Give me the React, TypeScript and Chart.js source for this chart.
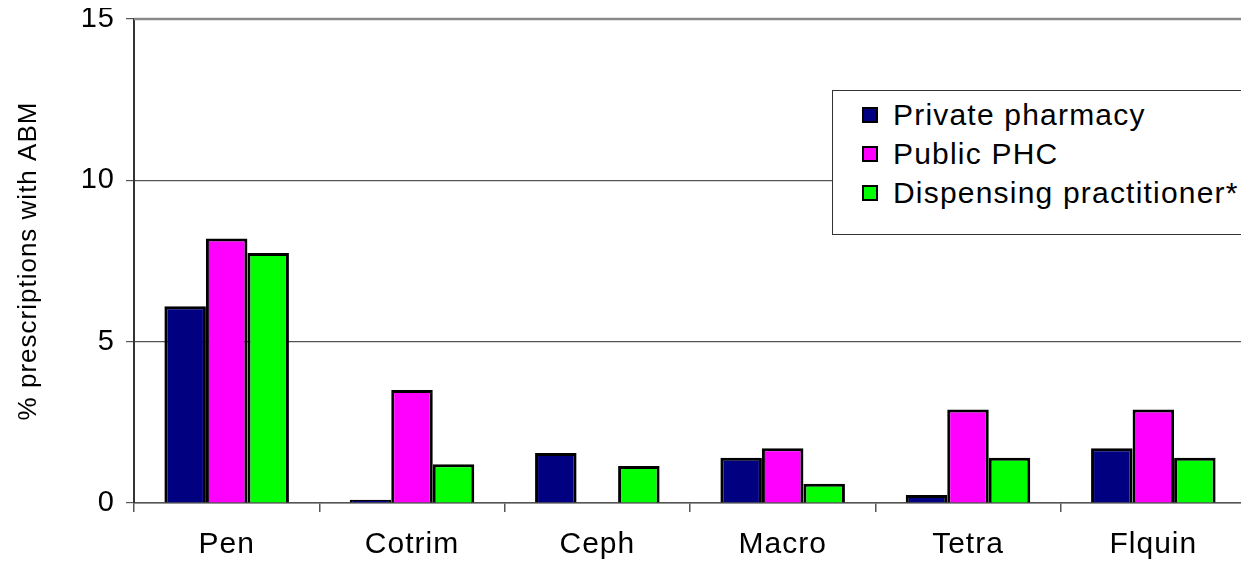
import React, { useEffect, useRef } from "react";
import { Chart, registerables } from "chart.js";

Chart.register(...registerables);

const categories = ["Pen", "Cotrim", "Ceph", "Macro", "Tetra", "Flquin"];
const privatePharmacy = [6.1, 0.1, 1.55, 1.4, 0.25, 1.7];
const publicPHC = [8.2, 3.5, 0, 1.7, 2.9, 2.9];
const dispensingPractitioner = [7.75, 1.2, 1.15, 0.6, 1.4, 1.4];
const seriesLabels = ["Private pharmacy", "Public PHC", "Dispensing practitioner*"];
const seriesColors = ["#000080", "#FF00FF", "#00FF00"];
const yMin = 0;
const yMax = 15;
const yStep = 5;
const yTitle = "% prescriptions with ABM";

const FONT = "'Liberation Sans', Arial, sans-serif";

const textSpacing = {
  id: "textSpacing",
  beforeLayout(chart: any) {
    (chart.ctx as any).letterSpacing = "1px";
  },
  beforeDraw(chart: any) {
    (chart.ctx as any).letterSpacing = "1px";
  },
};

const frameBorder = {
  id: "frameBorder",
  afterDraw(chart: any) {
    const { ctx, chartArea } = chart;
    ctx.save();
    ctx.strokeStyle = "#8a8a8a";
    ctx.lineWidth = 2.5;
    ctx.beginPath();
    ctx.moveTo(chartArea.left, chartArea.top);
    ctx.lineTo(chartArea.right, chartArea.top);
    ctx.lineTo(chartArea.right, chartArea.bottom);
    ctx.stroke();
    ctx.restore();
  },
};

export default function App() {
  const ref = useRef<HTMLCanvasElement | null>(null);

  useEffect(() => {
    if (!ref.current) return;
    const values = [privatePharmacy, publicPHC, dispensingPractitioner];
    const chart = new Chart(ref.current, {
      type: "bar",
      data: {
        labels: categories,
        datasets: values.map((v, i) => ({
          label: seriesLabels[i],
          data: v,
          backgroundColor: seriesColors[i],
          borderColor: "#000000",
          borderWidth: 3,
          borderSkipped: "bottom",
          categoryPercentage: 0.672,
          barPercentage: 1.0,
        })),
      },
      options: {
        animation: false,
        responsive: false,
        maintainAspectRatio: false,
        layout: { padding: { top: 19, right: 3, left: 0, bottom: 0 } },
        plugins: {
          legend: { display: false },
          tooltip: { enabled: false },
        },
        scales: {
          x: {
            offset: true,
            grid: {
              display: true,
              drawOnChartArea: false,
              offset: true,
              tickLength: 9,
              color: "#555555",
              lineWidth: 1.5,
            },
            border: { color: "#555555", width: 1.5 },
            ticks: {
              color: "#000000",
              padding: 15,
              font: { family: FONT, size: 30 },
              maxRotation: 0,
            },
            afterFit(scale: any) {
              scale.height = 58;
              scale.paddingLeft = 0;
              scale.paddingRight = 0;
            },
          },
          y: {
            min: yMin,
            max: yMax,
            ticks: {
              stepSize: yStep,
              color: "#000000",
              padding: 11,
              font: { family: FONT, size: 29 },
            },
            grid: {
              color: "#555555",
              lineWidth: 1.2,
              tickLength: 8,
            },
            border: { color: "#333333", width: 2 },
            title: {
              display: true,
              text: yTitle,
              color: "#000000",
              font: { family: FONT, size: 26 },
              padding: { top: 13, bottom: 0 },
            },
            afterFit(scale: any) {
              scale.width = 134;
              scale.paddingTop = 0;
              scale.paddingBottom = 0;
            },
          },
        },
      },
      plugins: [textSpacing, frameBorder],
    });
    return () => chart.destroy();
  }, []);

  return (
    <div
      style={{
        position: "relative",
        width: 1249,
        height: 561,
        marginLeft: -8,
        marginTop: -8,
        overflow: "hidden",
        background: "#ffffff",
      }}
    >
      <canvas ref={ref} width={1249} height={561} style={{ display: "block" }} />
      <div
        style={{
          position: "absolute",
          left: 832,
          top: 90,
          width: 440,
          height: 145,
          boxSizing: "border-box",
          border: "1.5px solid #333333",
          background: "#ffffff",
          paddingTop: 4,
          fontFamily: FONT,
          fontSize: 30,
          letterSpacing: 1.2,
        }}
      >
        {seriesLabels.map((label, i) => (
          <div
            key={label}
            style={{ display: "flex", alignItems: "center", height: 39, paddingLeft: 29 }}
          >
            <span
              style={{
                display: "inline-block",
                width: 16,
                height: 16,
                boxSizing: "border-box",
                border: "2px solid #000000",
                background: seriesColors[i],
                marginRight: 15,
              }}
            />
            <span style={{ whiteSpace: "nowrap" }}>{label}</span>
          </div>
        ))}
      </div>
    </div>
  );
}
